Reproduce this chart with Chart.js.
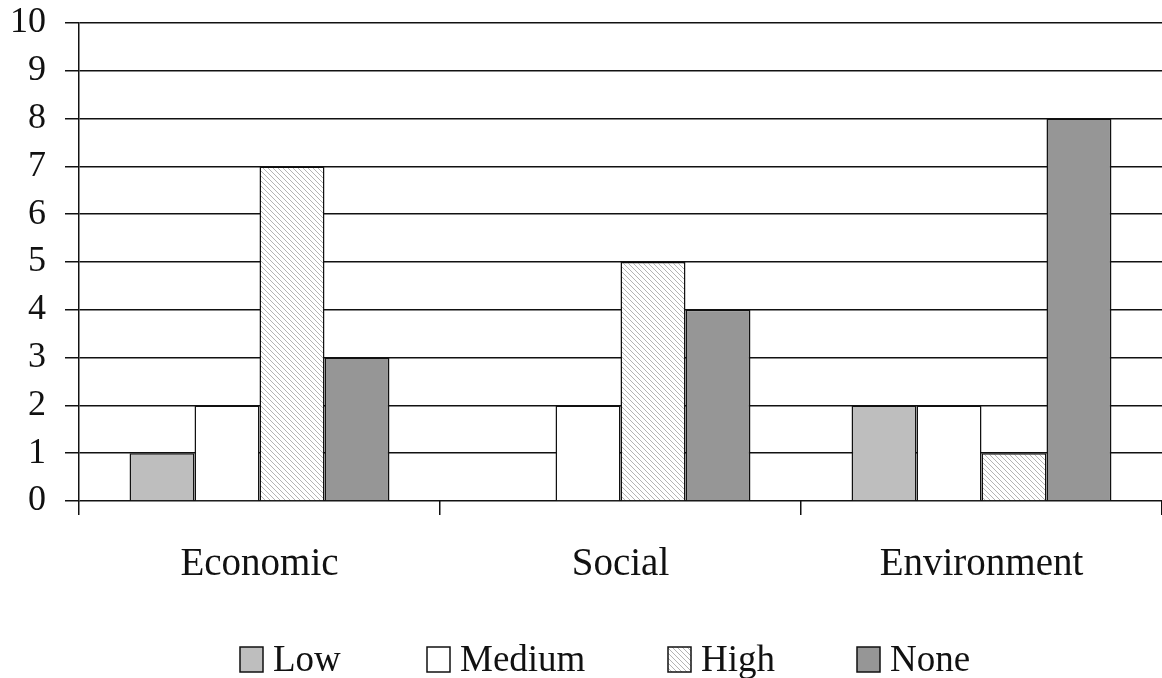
<!DOCTYPE html>
<html>
<head>
<meta charset="utf-8">
<script src="https://cdn.jsdelivr.net/npm/chart.js@4.4.1/dist/chart.umd.min.js"></script>
<style>
  html, body { margin: 0; padding: 0; background: #fff; }
  #wrap { width: 1162px; height: 678px; }
</style>
</head>
<body>
<div id="wrap"><canvas id="impactChart" width="1162" height="678"></canvas></div>
<script>
// Categories and counts per rating
const categories = ['Economic', 'Social', 'Environment'];
const lowValues = [1, 0, 2];
const mediumValues = [2, 2, 2];
const highValues = [7, 5, 1];
const noneValues = [3, 4, 8];
const yTicks = [0, 1, 2, 3, 4, 5, 6, 7, 8, 9, 10];

const serif = '"Liberation Serif", "Times New Roman", serif';

// Diagonal hatch fill for the "High" series
function makeHatch() {
    const c = document.createElement('canvas');
    c.width = 5;
    c.height = 5;
    const g = c.getContext('2d');
    g.fillStyle = '#ffffff';
    g.fillRect(0, 0, 5, 5);
    g.strokeStyle = '#b4b4b4';
    g.lineWidth = 1;
    g.beginPath();
    g.moveTo(-1, -1); g.lineTo(6, 6);
    g.moveTo(-4, 1); g.lineTo(4, 9);
    g.moveTo(1, -4); g.lineTo(9, 4);
    g.stroke();
    return g.createPattern(c, 'repeat');
}

const hatch = makeHatch();

const datasets = [
    { label: 'Low', data: lowValues, backgroundColor: '#bebebe' },
    { label: 'Medium', data: mediumValues, backgroundColor: '#ffffff' },
    { label: 'High', data: highValues, backgroundColor: hatch },
    { label: 'None', data: noneValues, backgroundColor: '#969696' }
].map(ds => ({
    ...ds,
    borderColor: '#111',
    borderWidth: 1.5,
    borderSkipped: 'start',
    categoryPercentage: 0.72,
    barPercentage: 1.0
}));

// Legend drawn along the bottom, one slot per series
const legendSlots = [240, 427, 668, 857];
const bottomLegend = {
    id: 'bottomLegend',
    afterDraw(chart) {
        const ctx = chart.ctx;
        ctx.save();
        ctx.font = '37px ' + serif;
        ctx.textBaseline = 'alphabetic';
        chart.data.datasets.forEach((ds, i) => {
            const x = legendSlots[i];
            ctx.fillStyle = ds.backgroundColor;
            ctx.fillRect(x, 647, 23, 25);
            ctx.strokeStyle = '#111';
            ctx.lineWidth = 1.5;
            ctx.strokeRect(x, 647, 23, 25);
            ctx.fillStyle = '#111';
            ctx.fillText(ds.label, x + 33, 671);
        });
        ctx.restore();
    }
};

const ctx = document.getElementById('impactChart').getContext('2d');
const impactChart = new Chart(ctx, {
    type: 'bar',
    data: { labels: categories, datasets },
    plugins: [bottomLegend],
    options: {
        responsive: false,
        animation: false,
        layout: { padding: { top: 23, right: 0, bottom: 0, left: 0 } },
        scales: {
            x: {
                afterFit: s => {
                    s.height = 177;
                    s.paddingLeft = 0;
                    s.paddingRight = 0;
                },
                grid: {
                    offset: true,
                    drawOnChartArea: false,
                    drawTicks: true,
                    tickLength: 14,
                    color: '#111',
                    lineWidth: 1.5
                },
                border: { display: false },
                ticks: {
                    color: '#111',
                    padding: 26,
                    font: { family: serif, size: 39 }
                }
            },
            y: {
                min: 0,
                max: 10,
                afterFit: s => {
                    s.width = 79;
                    s.paddingTop = 0;
                    s.paddingBottom = 0;
                },
                afterBuildTicks: s => { s.ticks = yTicks.map(v => ({ value: v })); },
                grid: {
                    color: '#111',
                    lineWidth: 1.5,
                    tickLength: 14
                },
                border: { display: true, color: '#111', width: 1.5 },
                ticks: {
                    color: '#111',
                    padding: 19,
                    autoSkip: false,
                    font: { family: serif, size: 36 }
                }
            }
        },
        plugins: {
            legend: { display: false },
            tooltip: { enabled: false }
        }
    }
});
</script>
</body>
</html>
